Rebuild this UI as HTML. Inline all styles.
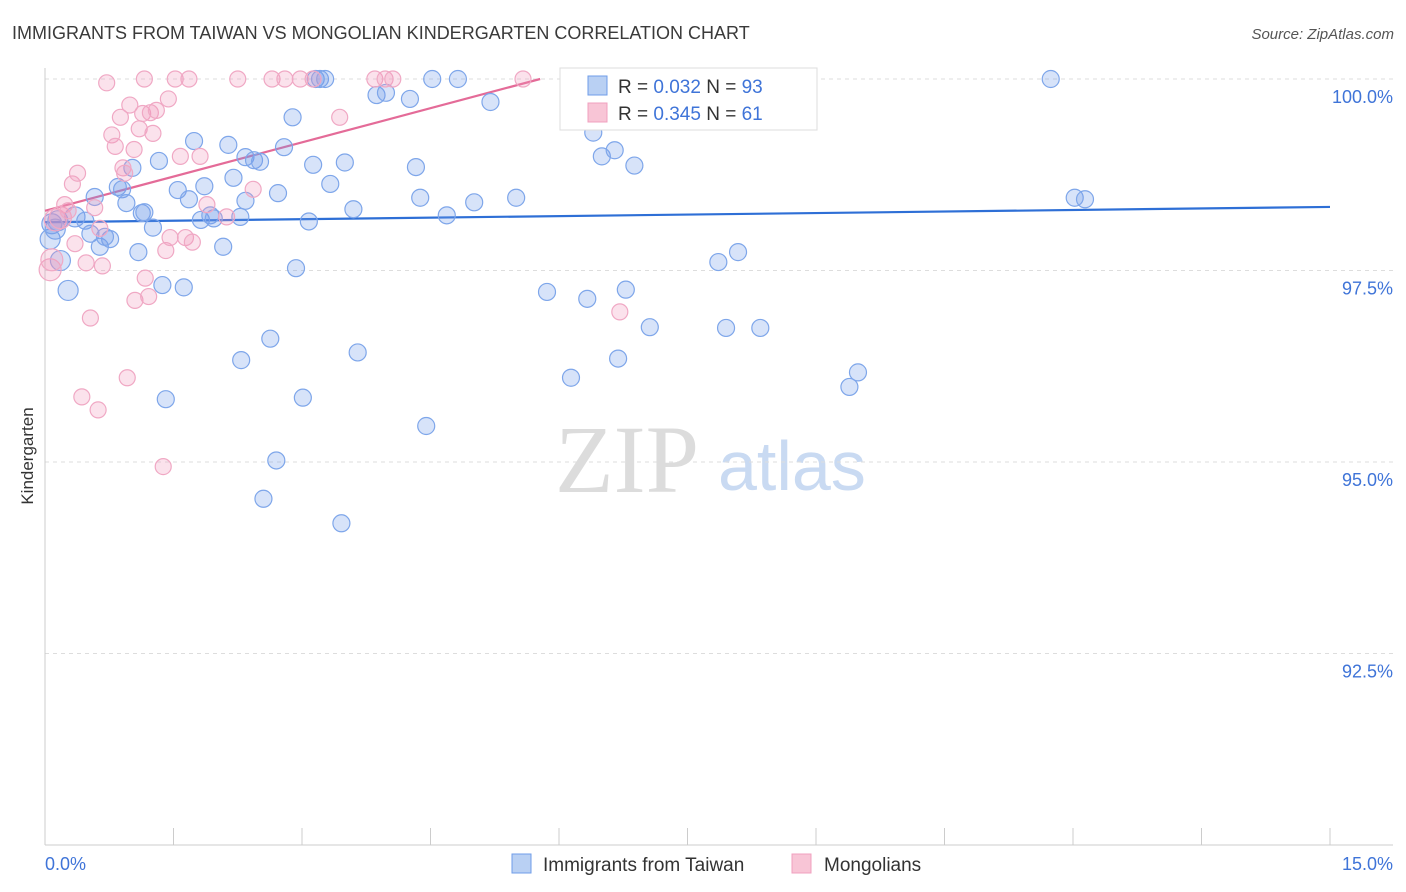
<!DOCTYPE html>
<html><head><meta charset="utf-8"><style>
body{margin:0;background:#fff;font-family:"Liberation Sans",sans-serif;}
svg{display:block}
</style></head><body>
<svg id="chart" width="1406" height="892" xmlns="http://www.w3.org/2000/svg">
<text x="12" y="39" font-size="18" fill="#3a3a3a" font-family="Liberation Sans">IMMIGRANTS FROM TAIWAN VS MONGOLIAN KINDERGARTEN CORRELATION CHART</text>
<text x="1394" y="39" font-size="15" fill="#555" text-anchor="end" font-style="italic">Source: ZipAtlas.com</text>
<text transform="translate(33,456) rotate(-90)" font-size="17" fill="#333" text-anchor="middle">Kindergarten</text>
<g>
<text x="555" y="492" font-size="96" fill="#dcdcdc" font-family="Liberation Serif">ZIP</text>
<text x="718" y="490" font-size="70" fill="#c9daf2">atlas</text>
</g>
<g id="grid"></g><g id="axes"></g><g id="trend"></g><g id="pts"></g>
<g>
<rect x="560" y="68" width="257" height="62" fill="#fff" stroke="#ddd"/>
<rect x="588" y="76" width="19" height="19" fill="#b9d0f3" stroke="#6f9de8"/>
<rect x="588" y="103" width="19" height="19" fill="#f8c5d6" stroke="#f0a0bf"/>
<text x="618" y="93" font-size="19" fill="#333">R = <tspan fill="#3f74d8">0.032</tspan>   N = <tspan fill="#3f74d8">93</tspan></text>
<text x="618" y="120" font-size="19" fill="#333">R = <tspan fill="#3f74d8">0.345</tspan>   N = <tspan fill="#3f74d8">61</tspan></text>
</g>
<g>
<rect x="512" y="854" width="19" height="19" fill="#b9d0f3" stroke="#6f9de8"/>
<text x="543" y="871" font-size="19" fill="#333">Immigrants from Taiwan</text>
<rect x="792" y="854" width="19" height="19" fill="#f8c5d6" stroke="#f0a0bf"/>
<text x="824" y="871" font-size="19" fill="#333">Mongolians</text>
</g>
</svg>
<script>
const yTicks=[100,97.5,95,92.5];
const yTickLabels=["100.0%","97.5%","95.0%","92.5%"];
const xTickLabels=["0.0%","15.0%"];
const taiwanX=[0.06,0.08,0.12,0.15,0.18,0.27,0.35,0.47,0.53,0.58,0.64,0.76,0.70,0.85,0.90,0.95,1.02,1.09,1.13,1.16,1.26,1.33,1.37,1.41,1.55,1.62,1.68,1.74,1.82,1.86,1.93,1.97,2.08,2.14,2.20,2.28,2.34,2.29,2.34,2.44,2.51,2.55,2.63,2.70,2.72,2.79,2.89,2.93,3.01,3.08,3.13,3.16,3.21,3.27,3.33,3.46,3.50,3.60,3.65,3.87,3.98,4.26,4.33,4.38,4.45,4.52,4.69,4.82,5.01,5.20,5.50,5.86,6.14,6.32,6.33,6.40,6.50,6.57,6.65,6.69,6.78,6.88,7.06,7.18,7.86,7.95,8.09,8.35,8.58,9.39,9.49,11.74,12.02,12.14];
const taiwanY=[97.91,98.11,98.04,98.15,97.63,97.24,98.20,98.15,97.98,98.46,97.81,97.91,97.94,98.59,98.56,98.38,98.84,97.74,98.25,98.26,98.06,98.93,97.31,95.82,98.55,97.28,98.43,99.19,98.16,98.60,98.22,98.18,97.81,99.14,98.71,98.20,98.98,96.33,98.41,98.94,98.92,94.52,96.61,95.02,98.51,99.11,99.50,97.53,95.84,98.14,98.88,100,100,100,98.63,94.20,98.91,98.30,96.43,99.79,99.82,99.74,98.85,98.45,95.47,100,98.22,100,98.39,99.70,98.45,97.22,96.10,100,97.13,99.30,98.99,99.46,99.07,96.35,97.25,98.87,96.76,100,97.61,96.75,97.74,96.75,100,95.98,96.17,100,98.45,98.43];
const mongolX=[0.06,0.08,0.12,0.18,0.23,0.27,0.32,0.35,0.38,0.43,0.48,0.53,0.58,0.62,0.67,0.64,0.72,0.78,0.82,0.88,0.91,0.93,0.96,0.99,1.04,1.05,1.10,1.14,1.16,1.17,1.21,1.23,1.26,1.30,1.38,1.41,1.44,1.46,1.52,1.58,1.64,1.68,1.72,1.81,1.89,2.12,2.25,2.43,2.65,2.80,2.98,3.13,3.44,3.85,3.97,4.06,5.58,6.71];
const mongolY=[97.51,97.64,98.16,98.19,98.36,98.28,98.63,97.85,98.77,95.85,97.60,96.88,98.32,95.68,97.56,98.05,99.95,99.27,99.12,99.50,98.84,98.77,96.10,99.66,99.08,97.11,99.35,99.55,100,97.40,97.16,99.56,99.29,99.59,94.94,97.76,99.74,97.93,100,98.99,97.93,100,97.87,98.99,98.36,98.20,100,98.56,100,100,100,100,99.50,100,100,100,100,96.96];
const svg=document.getElementById('chart');const NS="http://www.w3.org/2000/svg";
const X0=45,X1=1330,Y0=79,Y100=100;
function xs(v){return X0+v/15*(X1-X0);}
function ys(v){return Y0+(100-v)*76.6;}
function mk(t,a,p){const e=document.createElementNS(NS,t);for(const k in a)e.setAttribute(k,a[k]);p.appendChild(e);return e;}
const grid=document.getElementById('grid'),axes=document.getElementById('axes');
yTicks.forEach((v,i)=>{
 const l=mk('line',{x1:45,x2:1393,y1:ys(v),y2:ys(v),stroke:'#ddd','stroke-dasharray':'4,4'},grid);
 
 
 const t=mk('text',{x:1393,y:ys(v)+24,'font-size':18,fill:'#3f74d8','text-anchor':'end'},axes);t.textContent=yTickLabels[i];
 
 
});
const ax=mk('line',{x1:45,x2:45,y1:68,y2:845,stroke:'#ccc'},axes);


const bx=mk('line',{x1:45,x2:1393,y1:845,y2:845,stroke:'#ccc'},axes);


for(let i=0;i<=10;i++){const t=mk('line',{x1:xs(i*1.5),x2:xs(i*1.5),y1:828,y2:845,stroke:'#ccc'},axes);
 
 }
const xl0=mk('text',{x:45,y:870,'font-size':18,fill:'#3f74d8'},axes);xl0.textContent=xTickLabels[0];


const xl1=mk('text',{x:1393,y:870,'font-size':18,fill:'#3f74d8','text-anchor':'end'},axes);xl1.textContent=xTickLabels[1];


const pts=document.getElementById('pts');
taiwanX.forEach((x,i)=>{const c=mk('circle',{cx:xs(x),cy:ys(taiwanY[i]),r:x<0.4?10:8.5,fill:'rgba(110,155,232,0.28)',stroke:'#7ea6ea','stroke-width':1.2},pts);
 
 });
mongolX.forEach((x,i)=>{const c=mk('circle',{cx:xs(x),cy:ys(mongolY[i]),r:x<0.2?11:8,fill:'rgba(240,150,185,0.28)',stroke:'#f0a8c4','stroke-width':1.2},pts);
 
 });
const tr=document.getElementById('trend');
const l1=mk('line',{x1:xs(0),y1:ys(98.13),x2:xs(15),y2:ys(98.33),stroke:'#2e6fd6','stroke-width':2.2},tr);


const l2=mk('line',{x1:xs(0),y1:ys(98.28),x2:xs(5.78),y2:ys(100),stroke:'#e46b98','stroke-width':2.2},tr);


</script>
</body></html>
